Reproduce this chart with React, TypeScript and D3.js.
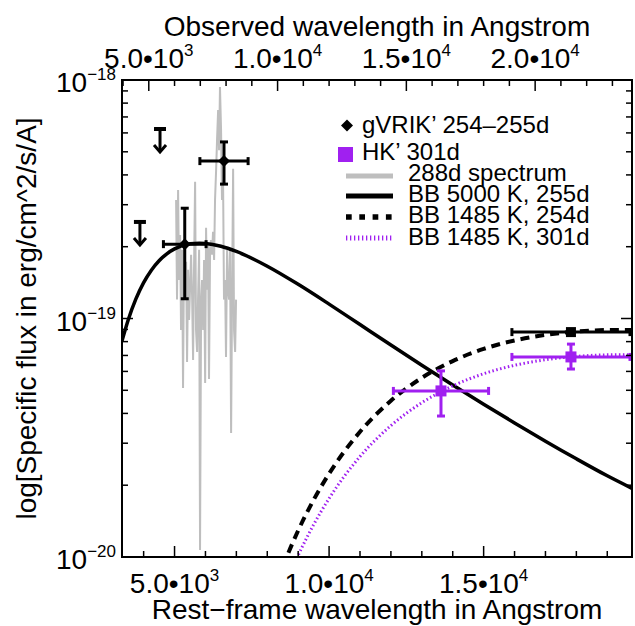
import React from 'react';
import * as d3 from 'd3';

const width = 635;
const height = 626;
const margin = { top: 80, right: 3, bottom: 69, left: 122 };

// axis ranges (rest-frame wavelength in Angstrom, flux in erg/cm^2/s/A)
const restDomain = [3300, 19800];
const fluxDomain = [1e-20, 1e-18];
const redshift = 0.2;

const restTicks = [4000, 5000, 6000, 7000, 8000, 9000, 10000, 11000, 12000, 13000, 14000, 15000, 16000, 17000, 18000, 19000];
const restLabels = [5000, 10000, 15000];
const obsTicks = [4000, 5000, 6000, 7000, 8000, 9000, 10000, 11000, 12000, 13000, 14000, 15000, 16000, 17000, 18000, 19000, 20000, 21000, 22000, 23000];
const obsLabels = [5000, 10000, 15000, 20000];
const fluxLabels = [1e-18, 1e-19, 1e-20];

// 288d spectrum
const specWave = [5050, 5080, 5115, 5145, 5180, 5210, 5245, 5275, 5310, 5340, 5375, 5405, 5440, 5470, 5505, 5535, 5570, 5600, 5630, 5665, 5695, 5730, 5760, 5795, 5825, 5860, 5890, 5925, 5955, 5990, 6020, 6050, 6085, 6115, 6150, 6180, 6215, 6245, 6280, 6310, 6345, 6375, 6410, 6440, 6470, 6505, 6535, 6570, 6600, 6635, 6665, 6700, 6730, 6765, 6795, 6830, 6860, 6895, 6925, 6960, 6990];
const specFlux = [3.14e-19, 1.2e-19, 3.46e-19, 1.45e-19, 2.24e-19, 8.95e-20, 1.94e-19, 5.11e-20, 2.13e-19, 1.2e-19, 1.73e-19, 6.57e-20, 1.6e-19, 9.86e-20, 1.38e-19, 1.85e-19, 1.2e-19, 6.7e-20, 1.6e-19, 3.74e-19, 8.95e-20, 7.24e-20, 1.2e-19, 1.94e-19, 1.07e-20, 1.2e-19, 1.45e-19, 8.95e-20, 1.76e-19, 5.37e-20, 2.4e-19, 1.32e-19, 2.03e-19, 5.57e-20, 1.94e-19, 2.13e-19, 1.85e-19, 2.31e-19, 1.76e-19, 3.14e-19, 4.2e-19, 5.6e-19, 7.48e-19, 5.08e-19, 9.35e-19, 6.17e-19, 3.14e-19, 3.81e-19, 1.2e-19, 1.45e-19, 6.9e-20, 1.94e-19, 1.32e-19, 1.2e-19, 1.94e-19, 3.31e-20, 1.2e-19, 4.24e-19, 8.95e-20, 7.24e-20, 1.2e-19];

// BB 5000 K, 255d
const bb5000Wave = [3300, 3500, 3750, 4000, 4250, 4500, 4750, 5000, 5500, 5800, 6000, 6500, 7000, 8000, 9000, 10000, 11000, 12000, 13000, 14000, 15000, 16000, 17000, 18000, 19000, 19800];
const bb5000Flux = [8.05e-20, 9.86e-20, 1.208e-19, 1.414e-19, 1.595e-19, 1.747e-19, 1.868e-19, 1.958e-19, 2.056e-19, 2.07e-19, 2.064e-19, 2.008e-19, 1.91e-19, 1.657e-19, 1.391e-19, 1.149e-19, 9.43e-20, 7.74e-20, 6.37e-20, 5.26e-20, 4.37e-20, 3.65e-20, 3.06e-20, 2.58e-20, 2.19e-20, 1.94e-20];

// BB 1485 K at 254d and 301d
const bb1485Wave = [8500, 8750, 9000, 9500, 10000, 11000, 12000, 13000, 14000, 15000, 16000, 17000, 18000, 19000, 19800];
const bb254Flux = [9.11e-21, 1.092e-20, 1.291e-20, 1.736e-20, 2.236e-20, 3.351e-20, 4.519e-20, 5.638e-20, 6.629e-20, 7.454e-20, 8.088e-20, 8.537e-20, 8.817e-20, 8.946e-20, 8.956e-20];
const bb301Flux = [7.17e-21, 8.59e-21, 1.016e-20, 1.366e-20, 1.76e-20, 2.637e-20, 3.556e-20, 4.436e-20, 5.216e-20, 5.865e-20, 6.364e-20, 6.717e-20, 6.938e-20, 7.039e-20, 7.047e-20];

// gVRIK' 254-255d photometry
const optWave = [6600, 5330];
const optWaveErr = [780, 690];
const optFlux = [4.57e-19, 2.05e-19];
const optFluxHi = [5.5e-19, 2.9e-19];
const optFluxLo = [3.66e-19, 1.21e-19];
const kWave = [17825];
const kWaveErr = [1910];
const kFlux = [8.77e-20];
const limWave = [4530, 3880];
const limFlux = [6.23e-19, 2.54e-19];

// HK' 301d photometry
const hkWave = [13620, 17825];
const hkWaveErr = [1540, 1910];
const hkFlux = [4.97e-20, 6.9e-20];
const hkFluxHi = [6.03e-20, 7.81e-20];
const hkFluxLo = [3.9e-20, 6.14e-20];

const legendLabels = ["gVRIK’ 254–255d", 'HK’ 301d', '288d spectrum', 'BB 5000 K, 255d', 'BB 1485 K, 254d', 'BB 1485 K, 301d'];

const purple = '#a020f0';
const grey = '#bebebe';
const font = '"Liberation Sans", Arial, Helvetica, sans-serif';

const x0 = margin.left;
const x1 = width - margin.right;
const y0 = margin.top;
const y1 = height - margin.bottom;

const x = d3.scaleLinear().domain(restDomain).range([x0, x1]);
const xObs = d3.scaleLinear().domain(restDomain.map((d) => d * (1 + redshift))).range([x0, x1]);
const y = d3.scaleLog().domain(fluxDomain).range([y1, y0]);

const line = d3
  .line<[number, number]>()
  .x((d) => x(d[0]))
  .y((d) => y(d[1]))
  .curve(d3.curveMonotoneX);

const rawLine = d3
  .line<[number, number]>()
  .x((d) => x(d[0]))
  .y((d) => y(d[1]));

const zip = (a: number[], b: number[]) => a.map((v, i) => [v, b[i]] as [number, number]);

const SciLabel = ({ px, py, value }: { px: number; py: number; value: number }) => {
  const exp = Math.floor(Math.log10(value) + 1e-9);
  const mant = (value / Math.pow(10, exp)).toFixed(1);
  return (
    <text x={px} y={py} textAnchor="middle" fontSize={28}>
      {mant}•10<tspan dy={-12} fontSize={17}>{exp}</tspan>
    </text>
  );
};

const ErrCross = ({ cx, cy, xl, xr, yt, yb, color }: any) => {
  const cap = 4;
  return (
    <g stroke={color} strokeWidth={3} fill="none">
      <line x1={xl} x2={xr} y1={cy} y2={cy} />
      <line x1={xl} x2={xl} y1={cy - cap} y2={cy + cap} />
      <line x1={xr} x2={xr} y1={cy - cap} y2={cy + cap} />
      {yt !== undefined && (
        <>
          <line x1={cx} x2={cx} y1={yt} y2={yb} />
          <line x1={cx - cap} x2={cx + cap} y1={yt} y2={yt} />
          <line x1={cx - cap} x2={cx + cap} y1={yb} y2={yb} />
        </>
      )}
    </g>
  );
};

export default function App() {
  const yTicks = y.ticks();
  return (
    <svg
      width={width}
      height={height}
      style={{ position: 'absolute', left: 0, top: 0, background: '#fff' }}
      fontFamily={font}
    >
      <rect width={width} height={height} fill="#fff" />
      <defs>
        <clipPath id="plot">
          <rect x={x0} y={y0} width={x1 - x0} height={y1 - y0} />
        </clipPath>
      </defs>

      {/* spectrum */}
      <g clipPath="url(#plot)">
        <path d={rawLine(zip(specWave, specFlux)) || ''} fill="none" stroke={grey} strokeWidth={2} />
      </g>

      {/* model curves */}
      <g clipPath="url(#plot)" fill="none">
        <path d={line(zip(bb5000Wave, bb5000Flux)) || ''} stroke="#000" strokeWidth={3.5} />
        <path d={line(zip(bb1485Wave, bb254Flux)) || ''} stroke="#000" strokeWidth={4} strokeDasharray="9,6" />
        <path d={line(zip(bb1485Wave, bb301Flux)) || ''} stroke={purple} strokeWidth={3} strokeDasharray="1.5,2.5" />
      </g>

      {/* gVRIK' points */}
      {optWave.map((w, i) => {
        const cx = x(w);
        const cy = y(optFlux[i]);
        return (
          <g key={'o' + i}>
            <ErrCross cx={cx} cy={cy} xl={x(w - optWaveErr[i])} xr={x(w + optWaveErr[i])} yt={y(optFluxHi[i])} yb={y(optFluxLo[i])} color="#000" />
            <path d={`M${cx - 6},${cy}L${cx},${cy - 6}L${cx + 6},${cy}L${cx},${cy + 6}Z`} fill="#000" />
          </g>
        );
      })}
      {kWave.map((w, i) => {
        const cx = x(w);
        const cy = y(kFlux[i]);
        return (
          <g key={'k' + i}>
            <ErrCross cx={cx} cy={cy} xl={x(w - kWaveErr[i])} xr={x(w + kWaveErr[i])} color="#000" />
            <rect x={cx - 5} y={cy - 5} width={10} height={10} fill="#000" />
          </g>
        );
      })}
      {limWave.map((w, i) => {
        const cx = x(w);
        const cy = y(limFlux[i]);
        const tip = cy + 23;
        return (
          <g key={'l' + i} stroke="#000" fill="none">
            <line x1={cx - 6} x2={cx + 6} y1={cy} y2={cy} strokeWidth={4} />
            <line x1={cx} x2={cx} y1={cy} y2={tip} strokeWidth={3} />
            <polyline points={`${cx - 6},${tip - 7} ${cx},${tip} ${cx + 6},${tip - 7}`} strokeWidth={3} />
          </g>
        );
      })}

      {/* HK' points */}
      {hkWave.map((w, i) => {
        const cx = x(w);
        const cy = y(hkFlux[i]);
        return (
          <g key={'h' + i}>
            <ErrCross cx={cx} cy={cy} xl={x(w - hkWaveErr[i])} xr={x(w + hkWaveErr[i])} yt={y(hkFluxHi[i])} yb={y(hkFluxLo[i])} color={purple} />
            <rect x={cx - 5.5} y={cy - 5.5} width={11} height={11} fill={purple} />
          </g>
        );
      })}

      {/* frame and ticks */}
      <rect x={x0} y={y0} width={x1 - x0} height={y1 - y0} fill="none" stroke="#000" strokeWidth={2} />
      <g stroke="#000" strokeWidth={1.5}>
        {restTicks.map((t) => {
          const len = restLabels.includes(t) ? 11 : 6;
          return <line key={'b' + t} x1={x(t)} x2={x(t)} y1={y1} y2={y1 - len} />;
        })}
        {obsTicks.map((t) => {
          const len = obsLabels.includes(t) ? 11 : 6;
          return <line key={'t' + t} x1={xObs(t)} x2={xObs(t)} y1={y0} y2={y0 + len} />;
        })}
        {yTicks.map((t, i) => {
          const major = fluxLabels.some((f) => Math.abs(f - t) / f < 1e-6);
          const len = major ? 11 : 6;
          return (
            <g key={'y' + i}>
              <line x1={x0} x2={x0 + len} y1={y(t)} y2={y(t)} />
              <line x1={x1} x2={x1 - len} y1={y(t)} y2={y(t)} />
            </g>
          );
        })}
      </g>

      {/* tick labels */}
      <g fill="#000">
        {restLabels.map((t) => (
          <SciLabel key={'bl' + t} px={x(t)} py={593} value={t} />
        ))}
        {obsLabels.map((t) => (
          <SciLabel key={'tl' + t} px={xObs(t)} py={68} value={t} />
        ))}
        {fluxLabels.map((t) => (
          <text key={'yl' + t} x={116} y={y(t) + 12} textAnchor="end" fontSize={28}>
            10<tspan dy={-12} fontSize={17}>{'−' + Math.round(-Math.log10(t))}</tspan>
          </text>
        ))}
      </g>

      {/* axis titles */}
      <text x={(x0 + x1) / 2} y={36} textAnchor="middle" fontSize={28}>
        Observed wavelength in Angstrom
      </text>
      <text x={(x0 + x1) / 2} y={619} textAnchor="middle" fontSize={28}>
        Rest−frame wavelength in Angstrom
      </text>
      <text transform={`translate(36,${(y0 + y1) / 2}) rotate(-90)`} textAnchor="middle" fontSize={28}>
        log[Specific flux in erg/cm^2/s/A]
      </text>

      {/* legend */}
      <g fontSize={24}>
        <path d="M341,125.5L347,119.5L353,125.5L347,131.5Z" fill="#000" />
        <text x={362} y={133}>{legendLabels[0]}</text>
        <rect x={338} y={147} width={15} height={15} fill={purple} />
        <text x={362} y={160}>{legendLabels[1]}</text>
        <line x1={346} x2={393} y1={176} y2={176} stroke={grey} strokeWidth={5} />
        <text x={408} y={181}>{legendLabels[2]}</text>
        <line x1={346} x2={393} y1={196} y2={196} stroke="#000" strokeWidth={5} />
        <text x={408} y={202}>{legendLabels[3]}</text>
        <line x1={346} x2={393} y1={217} y2={217} stroke="#000" strokeWidth={5.5} strokeDasharray="5.7,7.6" />
        <text x={408} y={223}>{legendLabels[4]}</text>
        <line x1={346} x2={393} y1={238} y2={238} stroke={purple} strokeWidth={5} strokeDasharray="1.3,2.7" />
        <text x={408} y={245}>{legendLabels[5]}</text>
      </g>
    </svg>
  );
}
